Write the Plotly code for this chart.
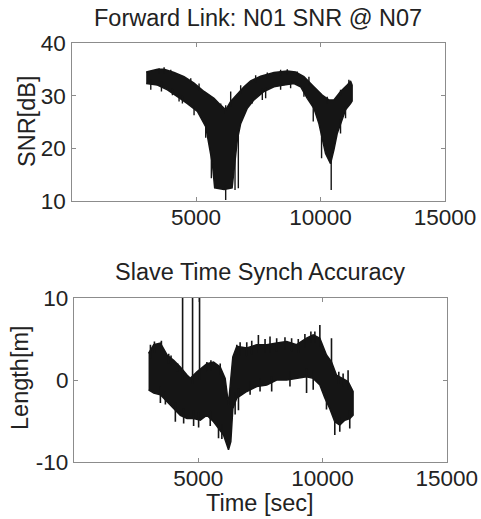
import plotly.graph_objects as go

# ---------------- data ----------------
# Top panel: SNR envelope (upper / lower edge of the dense trace)
snr_up_t = [3000, 3452, 3719, 4120, 4521, 4922, 5323, 5724, 5992, 6192, 6393, 6660, 6928,
            7195, 7596, 8131, 8666, 9000, 9334, 9735, 10070, 10337, 10538, 10805, 11072, 11206, 11270]
snr_up_v = [34.5, 35.0, 35.0, 34.4, 33.6, 32.4, 30.8, 29.5, 28.2, 27.3, 28.9, 30.4, 31.7,
            32.8, 33.7, 34.4, 34.7, 34.5, 33.6, 31.7, 30.1, 29.2, 29.2, 30.8, 32.0, 32.8, 32.0]
snr_lo_t = [3000, 3452, 3853, 4254, 4655, 5056, 5390, 5524, 5657, 5750, 6126, 6450, 6560,
            6660, 6794, 7061, 7329, 7730, 8131, 8532, 8933, 9201, 9468, 9735, 9936, 10070,
            10203, 10404, 10538, 10671, 10805, 11006, 11206, 11270]
snr_lo_v = [32.3, 32.0, 31.1, 29.8, 28.5, 27.0, 24.1, 21.0, 17.1, 12.5, 12.2, 12.5, 17.8,
            21.6, 24.7, 27.6, 29.2, 30.8, 31.7, 32.0, 32.3, 31.7, 29.5, 27.6, 24.7, 21.6,
            19.0, 17.1, 19.7, 22.8, 24.7, 27.3, 28.5, 29.0]
# noise spikes sticking out of the band: time, base value, tip value
snr_spk_t = [3117, 3518, 3719, 3986, 4789, 5123, 5992, 6192, 6393, 6794, 7396, 7864, 8398, 8666,
             9067, 9535, 10270, 10805, 11139,
             3184, 3612, 4053, 4320, 4454, 4922, 5390, 5617, 6192, 6567, 6700, 7262, 7663, 7797,
             8398, 8800, 9334, 9709, 10043, 10430, 10805, 11006]
snr_spk_a = [33.8, 34.2, 34.2, 33.8, 32.2, 31.0, 27.4, 26.5, 28.0, 30.3, 32.5, 33.2, 33.8, 34.0,
             33.8, 32.0, 28.5, 30.0, 32.0,
             33.0, 32.7, 31.3, 30.4, 30.0, 28.2, 25.0, 19.0, 13.0, 18.5, 22.5, 29.5, 31.3, 31.5,
             32.5, 32.8, 31.5, 28.5, 23.0, 18.0, 25.5, 28.0]
snr_spk_b = [34.7, 35.2, 35.4, 34.9, 33.3, 32.3, 28.5, 28.2, 30.8, 32.0, 33.9, 34.4, 34.9, 35.0,
             34.6, 33.6, 29.8, 31.1, 33.0,
             31.1, 30.8, 30.1, 28.9, 28.5, 26.3, 22.0, 14.3, 10.2, 12.1, 12.4, 28.5, 29.2, 29.5,
             31.1, 31.4, 29.8, 25.1, 18.1, 12.1, 22.8, 25.7]

# Bottom panel: time synch accuracy envelope
acc_up_t = [3000, 3210, 3477, 3745, 4012, 4279, 4547, 4681, 4948, 5349, 5616, 5884, 6084, 6218,
            6312, 6392, 6552, 6953, 7355, 7756, 8157, 8558, 8959, 9360, 9627, 9895, 10162,
            10363, 10563, 10831, 11031, 11232]
acc_up_v = [3.25, 4.3, 4.5, 3.05, 2.4, 1.6, 0.6, 0.2, 1.0, 2.0, 2.2, 1.6, 0.2, -3.0,
            0.2, 2.8, 4.1, 3.9, 4.3, 4.3, 4.5, 4.7, 4.3, 5.1, 5.5, 5.1, 3.05,
            2.2, 0.6, 0.2, -0.2, -1.4]
acc_lo_t = [3000, 3210, 3477, 3745, 4012, 4279, 4547, 4814, 5082, 5349, 5616, 5817, 6017, 6151,
            6218, 6312, 6392, 6552, 6953, 7355, 7756, 8157, 8558, 8959, 9360, 9627, 9895,
            10095, 10296, 10496, 10697, 10898, 11098, 11232]
acc_lo_v = [-1.2, -1.6, -1.8, -2.6, -3.5, -4.3, -4.7, -4.7, -4.9, -4.3, -5.1, -5.9, -6.7, -7.9,
            -8.5, -7.5, -3.5, -2.2, -1.4, -0.8, -0.6, 0.0, 0.0, 0.2, 0.4, 0.2, -0.6,
            -2.2, -3.5, -5.1, -5.5, -4.9, -4.7, -4.3]
# outliers (three tall ones) and noise spikes: time, base value, tip value
acc_spk_t = [4371, 4772, 5053,
             3076, 3237, 3517, 3811, 3905, 4172, 5349, 5510, 5884, 6552, 6686, 6953, 7154, 7421,
             7689, 7889, 8157, 8491, 8758, 9026, 9293, 9534, 9694, 9895, 10363, 10657, 10831, 11031,
             3477, 3678, 4079, 4413, 4814, 5015, 5483, 5817, 5951, 6485, 6619, 7087, 7488, 7956,
             8692, 9360, 9627, 10162, 10496, 10697, 11098]
acc_spk_a = [0.0, -0.5, 0.0,
             2.6, 3.3, 3.3, 2.0, 1.7, 1.0, 1.0, 1.2, 0.6, 3.1, 3.0, 2.9, 3.1, 3.3,
             3.3, 3.3, 3.5, 3.7, 3.5, 3.3, 4.0, 4.5, 4.5, 4.1, 1.2, -0.5, -0.8, -1.2,
             -0.8, -1.4, -2.7, -3.5, -3.7, -3.9, -3.7, -4.9, -5.4, -1.5, -1.0, -0.2, 0.2, 0.4,
             1.0, 1.4, 1.2, -1.7, -4.1, -4.5, -3.7]
acc_spk_b = [12.0, 12.0, 12.0,
             4.3, 4.7, 4.8, 3.2, 3.0, 2.0, 2.2, 2.4, 2.0, 4.3, 4.6, 4.6, 4.8, 5.5,
             5.0, 5.3, 5.1, 5.2, 5.1, 5.0, 5.6, 5.9, 5.9, 6.7, 5.1, 1.0, 0.8, 1.2,
             -2.8, -3.0, -5.1, -5.3, -5.6, -5.8, -5.6, -7.1, -7.2, -4.2, -3.7, -1.8, -1.4, -1.4,
             -0.8, -1.6, -1.2, -3.6, -6.7, -6.3, -5.9]

x_ticks = [5000, 10000, 15000]
x_tick_text = ["5000", "10000", "15000"]
snr_ticks = [10, 20, 30, 40]
acc_ticks = [-10, 0, 10]
acc_tick_text = ["-10", "0", "10"]

# ---------------- figure ----------------
INK = "#151515"
W, H = 481, 519
FONT = "Liberation Sans, Arial, sans-serif"
FS_TICK = 22.5
FS_TEXT = 23.5


def band(t_up, v_up, t_lo, v_lo, xa, ya):
    return go.Scatter(x=list(t_up) + list(t_lo)[::-1], y=list(v_up) + list(v_lo)[::-1],
                      fill="toself", fillcolor=INK, mode="lines",
                      line=dict(color=INK, width=1.5), xaxis=xa, yaxis=ya,
                      hoverinfo="skip", showlegend=False)


def spikes(ts, a, b, xa, ya, w=1.4):
    xs, ys = [], []
    for t, y0, y1 in zip(ts, a, b):
        xs += [t, t, None]
        ys += [y0, y1, None]
    return go.Scatter(x=xs, y=ys, mode="lines", line=dict(color=INK, width=w),
                      xaxis=xa, yaxis=ya, hoverinfo="skip", showlegend=False)


fig = go.Figure()
fig.add_trace(band(snr_up_t, snr_up_v, snr_lo_t, snr_lo_v, "x", "y"))
fig.add_trace(spikes(snr_spk_t, snr_spk_a, snr_spk_b, "x", "y"))
fig.add_trace(band(acc_up_t, acc_up_v, acc_lo_t, acc_lo_v, "x2", "y2"))
fig.add_trace(spikes(acc_spk_t, acc_spk_a, acc_spk_b, "x2", "y2", w=1.6))

axis_common = dict(showline=True, linecolor="#8c8c8c", linewidth=1.2, mirror="ticks",
                   ticks="inside", ticklen=4, tickcolor="#8c8c8c", tickwidth=1,
                   showgrid=False, zeroline=False, automargin=False,
                   tickfont=dict(family=FONT, size=FS_TICK, color="#222222"))


def px_x(p):
    return p / W


def px_y(p):
    return 1 - p / H


fig.update_layout(
    width=W, height=H, margin=dict(l=0, r=0, t=0, b=0),
    paper_bgcolor="white", plot_bgcolor="white", showlegend=False,
    xaxis=dict(domain=[px_x(71.5), px_x(445)], range=[0, 15000], tickvals=x_ticks,
               ticktext=x_tick_text, anchor="y", ticklabelstandoff=-4, **axis_common),
    yaxis=dict(domain=[px_y(201), px_y(43)], range=[10, 40], tickvals=snr_ticks,
               anchor="x", **axis_common),
    xaxis2=dict(domain=[px_x(74), px_x(446.7)], range=[0, 15000], tickvals=x_ticks,
                ticktext=x_tick_text, anchor="y2", ticklabelstandoff=-4, **axis_common),
    yaxis2=dict(domain=[px_y(462), px_y(298)], range=[-10, 10], tickvals=acc_ticks,
                ticktext=acc_tick_text, anchor="x2", **axis_common),
)

txt = dict(family=FONT, size=FS_TEXT, color="#222222")
ann = [
    dict(text="Forward Link: N01 SNR @ N07", x=px_x(258), y=px_y(18)),
    dict(text="Slave Time Synch Accuracy", x=px_x(260), y=px_y(272)),
    dict(text="SNR[dB]", x=px_x(27), y=px_y(122), textangle=-90),
    dict(text="Length[m]", x=px_x(20), y=px_y(378), textangle=-90),
    dict(text="Time [sec]", x=px_x(260), y=px_y(503)),
]
for a in ann:
    fig.add_annotation(xref="paper", yref="paper", showarrow=False,
                       xanchor="center", yanchor="middle", font=txt, **a)

fig.write_html("out.html", config={"displayModeBar": False},
               post_script="document.body.style.margin='0';document.body.style.overflow='hidden';")
